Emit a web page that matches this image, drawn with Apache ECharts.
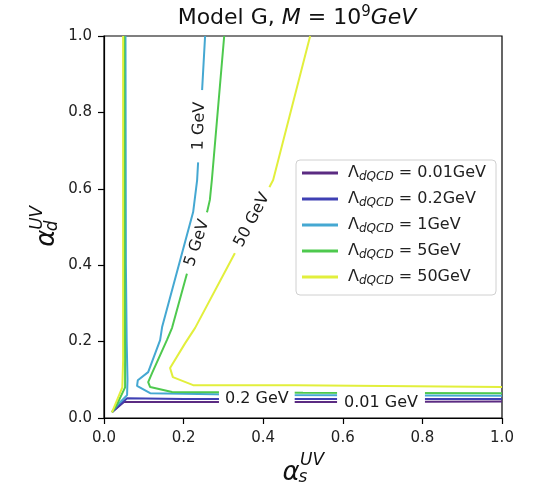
<!DOCTYPE html>
<html>
<head>
<meta charset="utf-8">
<script src="https://cdn.jsdelivr.net/npm/echarts@6/dist/echarts.min.js"></script>
<style>html,body{margin:0;padding:0;background:#fff;}#c{width:534px;height:483px;}</style>
</head>
<body>
<div id="c"></div>
<script>
// ---- data ----
const levels = ['0.01', '0.2', '1', '5', '50'];
const colors = ['#5b2b82', '#3f40b4', '#45a8d2', '#4ec94e', '#e2ef3c'];
const xTicks = [0, 0.2, 0.4, 0.6, 0.8, 1.0];
const yTicks = [0, 0.2, 0.4, 0.6, 0.8, 1.0];

// contour Λ = 0.01 GeV
const lvl001 = [[0.020, 0.015], [0.050, 0.042], [0.20, 0.042], [0.60, 0.042], [1.00, 0.043]];
// contour Λ = 0.2 GeV
const lvl02 = [[0.020, 0.016], [0.058, 0.052], [0.20, 0.050], [0.60, 0.050], [1.00, 0.050]];
// contour Λ = 1 GeV (left branch, right branch)
const lvl1a = [[0.054, 1.00], [0.055, 0.40], [0.057, 0.20], [0.059, 0.10], [0.058, 0.060], [0.030, 0.030], [0.020, 0.015]];
const lvl1b = [[0.254, 1.00], [0.234, 0.623], [0.224, 0.539], [0.146, 0.238], [0.141, 0.204], [0.111, 0.120], [0.085, 0.099], [0.083, 0.084], [0.116, 0.065], [0.40, 0.060], [1.00, 0.058]];
// contour Λ = 5 GeV
const lvl5a = [[0.051, 1.00], [0.052, 0.40], [0.053, 0.15], [0.053, 0.080], [0.030, 0.030], [0.020, 0.015]];
const lvl5b = [[0.302, 1.00], [0.271, 0.623], [0.266, 0.571], [0.259, 0.539], [0.209, 0.380], [0.171, 0.236], [0.158, 0.204], [0.121, 0.118], [0.111, 0.094], [0.116, 0.081], [0.171, 0.068], [0.50, 0.066], [1.00, 0.065]];
// contour Λ = 50 GeV
const lvl50a = [[0.048, 1.00], [0.048, 0.40], [0.048, 0.15], [0.046, 0.080], [0.026, 0.030], [0.020, 0.015]];
const lvl50b = [[0.518, 1.00], [0.425, 0.623], [0.329, 0.432], [0.229, 0.236], [0.204, 0.196], [0.166, 0.131], [0.173, 0.107], [0.224, 0.086], [0.48, 0.086], [1.00, 0.081]];

// inline contour labels
const clabelText = ['1 GeV', '5 GeV', '50 GeV', '0.2 GeV', '0.01 GeV'];
const clabelX = [0.239, 0.234, 0.372, 0.384, 0.696];
const clabelY = [0.764, 0.458, 0.518, 0.050, 0.039];
const clabelAngle = [88, 72, 62, 0, 0];

// y-axis title pieces (α, superscript UV, subscript d), placed left of the axis
const yTitleText = ['α', 'UV', 'd'];
const yTitleX = [-0.143, -0.168, -0.128];
const yTitleY = [0.471, 0.524, 0.503];
const yTitleSize = [26, 17, 17];

// ---- chart ----
const FONT = 'DejaVu Sans';
const names = levels.map(v => 'Λ_dQCD = ' + v + 'GeV');
const lineSets = [[lvl001], [lvl02], [lvl1a, lvl1b], [lvl5a, lvl5b], [lvl50a, lvl50b]];
const series = [];
lineSets.forEach((sets, i) => {
  sets.forEach(d => {
    series.push({
      type: 'line', name: names[i], data: d, showSymbol: false, symbol: 'none',
      smooth: false, clip: true, silent: true,
      lineStyle: { color: colors[i], width: 2 }, itemStyle: { color: colors[i] },
      z: 2 + i
    });
  });
});
const labelPad = [[0, 12], [0, 8], [0, 8], [2, 6], [4, 7]];
series.push({
  type: 'scatter', symbolSize: 0, silent: true, z: 20,
  itemStyle: { opacity: 1 },
  data: clabelText.map((t, i) => ({
    value: [clabelX[i], clabelY[i]],
    label: { show: true, position: 'inside', formatter: t, rotate: clabelAngle[i], padding: labelPad[i] }
  })),
  label: { fontFamily: FONT, fontSize: 16, color: '#1a1a1a', opacity: 1, backgroundColor: '#fff', lineHeight: 16 }
});
series.push({
  type: 'scatter', symbolSize: 0, silent: true, z: 20, clip: false,
  itemStyle: { opacity: 1 },
  data: yTitleText.map((t, i) => ({
    value: [yTitleX[i], yTitleY[i]],
    label: { show: true, position: 'inside', formatter: t, rotate: 90, fontSize: yTitleSize[i] }
  })),
  label: { fontFamily: FONT, fontStyle: 'italic', color: '#111', opacity: 1 }
});

const axisCommon = {
  type: 'value', min: 0, max: 1, interval: 0.2,
  axisLine: { show: true, lineStyle: { color: '#000', width: 1.2 } },
  axisTick: { show: true, inside: false, length: 6, lineStyle: { color: '#000', width: 1.2 } },
  axisLabel: { fontFamily: FONT, fontSize: 15, color: '#222', margin: 12, formatter: v => v.toFixed(1) },
  splitLine: { show: false }
};

const txt = (t, x, y, size) => ({
  type: 'text', x: x, y: y, z: 50,
  style: { text: t, font: 'italic ' + size + 'px "DejaVu Sans"', fill: '#111', align: 'center', verticalAlign: 'middle' }
});

const option = {
  animation: false,
  backgroundColor: '#fff',
  grid: { left: 104, right: 32, top: 36, bottom: 65, show: true, borderColor: '#000', borderWidth: 1.2, backgroundColor: 'transparent' },
  xAxis: Object.assign({}, axisCommon, { axisLabel: Object.assign({}, axisCommon.axisLabel, { margin: 13 }) }),
  yAxis: Object.assign({}, axisCommon),
  legend: {
    data: names, orient: 'vertical', left: 296, top: 160,
    padding: [5, 10, 8, 6], itemGap: 8, itemWidth: 36, itemHeight: 3, icon: 'rect',
    borderColor: '#d0d0d0', borderWidth: 1, borderRadius: 4, backgroundColor: 'rgba(255,255,255,0.85)',
    formatter: n => '{L|Λ}{s|dQCD}{n| = ' + n.split('= ')[1] + '}',
    textStyle: {
      fontFamily: FONT, fontSize: 16, color: '#222',
      rich: {
        L: { fontFamily: FONT, fontSize: 16, lineHeight: 20, padding: [0, 0, 0, 5], color: '#222' },
        s: { fontFamily: FONT, fontSize: 12, fontStyle: 'italic', lineHeight: 12, verticalAlign: 'bottom', color: '#222' },
        n: { fontFamily: FONT, fontSize: 16, lineHeight: 20, color: '#222' }
      }
    },
    selectedMode: false
  },
  graphic: [
    {
      type: 'text', x: 297, y: 18, z: 50,
      style: {
        text: '{n|Model G, }{i|M}{n| = 10}{sup|9}{i|GeV}',
        align: 'center', verticalAlign: 'middle', fill: '#111',
        rich: {
          n: { fontFamily: FONT, fontSize: 22, lineHeight: 26, fill: '#111' },
          i: { fontFamily: FONT, fontSize: 22, fontStyle: 'italic', lineHeight: 26, fill: '#111' },
          sup: { fontFamily: FONT, fontSize: 15, lineHeight: 14, verticalAlign: 'top', fill: '#111' }
        }
      }
    },
    txt('α', 291, 473, 26),
    txt('UV', 312, 461, 17),
    txt('s', 303, 478, 17)
  ],
  series: series
};
const chart = echarts.init(document.getElementById('c'), null, { renderer: 'canvas' });
chart.setOption(option);
</script>
</body>
</html>
